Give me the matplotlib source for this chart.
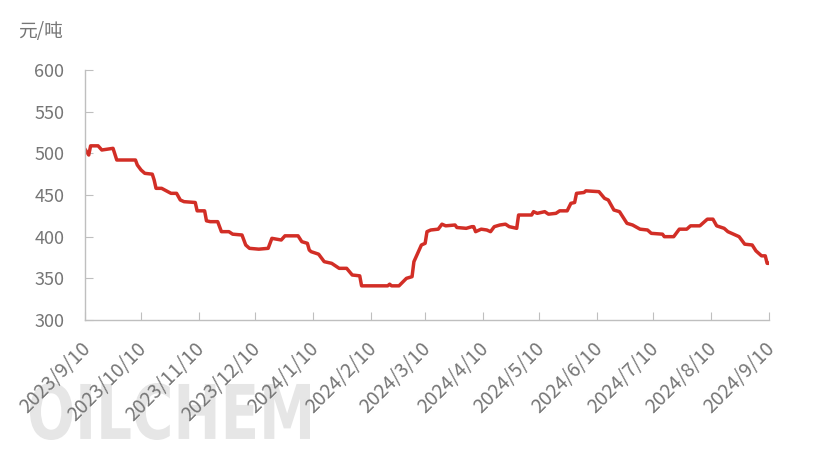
import pandas as pd
import matplotlib.pyplot as plt
from matplotlib.textpath import TextPath
from matplotlib.patches import PathPatch
from matplotlib.font_manager import FontProperties
from matplotlib.transforms import Affine2D, IdentityTransform, ScaledTranslation

plt.rcParams['font.family'] = ['Noto Sans CJK SC', 'DejaVu Sans']

# price readings (yuan/ton) at the turning points
dates = [
    "2023-09-10", "2023-09-12", "2023-09-13", "2023-09-17", "2023-09-19", "2023-09-22",
    "2023-09-25", "2023-09-27", "2023-10-07", "2023-10-08", "2023-10-10", "2023-10-12",
    "2023-10-16", "2023-10-17", "2023-10-18", "2023-10-21", "2023-10-26", "2023-10-29",
    "2023-10-31", "2023-11-02", "2023-11-08", "2023-11-09", "2023-11-13", "2023-11-14",
    "2023-11-16", "2023-11-20", "2023-11-22", "2023-11-26", "2023-11-28", "2023-12-03",
    "2023-12-05", "2023-12-07", "2023-12-12", "2023-12-17", "2023-12-19", "2023-12-24",
    "2023-12-26", "2024-01-02", "2024-01-04", "2024-01-07", "2024-01-08", "2024-01-09",
    "2024-01-13", "2024-01-16", "2024-01-20", "2024-01-24", "2024-01-28", "2024-01-31",
    "2024-02-04", "2024-02-05", "2024-02-19", "2024-02-20", "2024-02-21", "2024-02-25",
    "2024-02-29", "2024-03-03", "2024-03-04", "2024-03-06", "2024-03-08", "2024-03-10",
    "2024-03-11", "2024-03-13", "2024-03-17", "2024-03-19", "2024-03-21", "2024-03-26",
    "2024-03-27", "2024-04-01", "2024-04-04", "2024-04-05", "2024-04-06", "2024-04-09",
    "2024-04-12", "2024-04-14", "2024-04-16", "2024-04-19", "2024-04-22", "2024-04-24",
    "2024-04-28", "2024-04-29", "2024-05-06", "2024-05-07", "2024-05-09", "2024-05-13",
    "2024-05-15", "2024-05-19", "2024-05-21", "2024-05-25", "2024-05-27", "2024-05-29",
    "2024-05-30", "2024-06-03", "2024-06-04", "2024-06-11", "2024-06-14", "2024-06-16",
    "2024-06-19", "2024-06-22", "2024-06-26", "2024-06-29", "2024-07-03", "2024-07-07",
    "2024-07-09", "2024-07-15", "2024-07-16", "2024-07-21", "2024-07-24", "2024-07-28",
    "2024-07-30", "2024-08-04", "2024-08-06", "2024-08-08", "2024-08-11", "2024-08-13",
    "2024-08-17", "2024-08-19", "2024-08-24", "2024-08-25", "2024-08-28", "2024-09-01",
    "2024-09-03", "2024-09-06", "2024-09-08", "2024-09-09", "2024-09-10",
]
prices = [
    505, 498, 509, 509, 504, 505,
    506, 492, 492, 486, 480, 476,
    475, 468, 458, 458, 452, 452,
    444, 442, 441, 431, 431, 419,
    418, 418, 406, 406, 403, 402,
    390, 386, 385, 386, 398, 396,
    401, 401, 394, 392, 384, 382,
    379, 370, 368, 362, 362, 354,
    353, 341, 341, 343, 341, 341,
    350, 352, 370, 380, 390, 392,
    406, 408, 409, 415, 413, 414,
    411, 410, 412, 412, 406, 409,
    408, 406, 412, 414, 415, 412,
    410, 426, 426, 430, 428, 430,
    427, 428, 431, 431, 440, 441,
    452, 453, 455, 454, 446, 444,
    432, 430, 416, 414, 409, 408,
    404, 403, 400, 400, 409, 409,
    413, 413, 417, 421, 421, 413,
    410, 406, 401, 400, 391, 390,
    383, 377, 377, 368, 368,
]
tick_dates = pd.to_datetime([
    "2023-09-10", "2023-10-10", "2023-11-10", "2023-12-10", "2024-01-10", "2024-02-10",
    "2024-03-10", "2024-04-10", "2024-05-10", "2024-06-10", "2024-07-10", "2024-08-10",
    "2024-09-10",
])
tick_labels = [f"{d.year}/{d.month}/{d.day}" for d in tick_dates]

x = pd.to_datetime(dates)

fig = plt.figure(figsize=(8.15, 4.61), dpi=100)

# watermark, squeezed into its box in pixel units
tp = TextPath((0, 0), "OILCHEM", size=100,
              prop=FontProperties(family="DejaVu Sans", weight="bold"))
ext = tp.get_extents()
sx = 280 / ext.width
sy = 57 / ext.height
wm_tr = Affine2D().translate(-ext.x0, -ext.y0).scale(sx, sy).translate(30, 461 - 440)
fig.add_artist(PathPatch(tp, transform=wm_tr + IdentityTransform(),
                         facecolor="#e6e6e6", edgecolor="none", zorder=0))

ax = fig.add_axes([85 / 815, 141 / 461, 684 / 815, 250 / 461])
ax.set_facecolor("none")
ax.set_zorder(1)

ax.plot(x, prices, color="#d22e26", lw=2.5, solid_joinstyle="round")

ax.set_xlim(pd.Timestamp("2023-09-10"), pd.Timestamp("2024-09-10"))
ax.set_ylim(300, 600)
ax.set_yticks(range(300, 601, 50))
ax.set_xticks(tick_dates)
ax.set_xticklabels(tick_labels, rotation=45, ha="right", va="top", rotation_mode="anchor")

for s in ["top", "right"]:
    ax.spines[s].set_visible(False)
for s in ["left", "bottom"]:
    ax.spines[s].set_color("#bfbfbf")
    ax.spines[s].set_linewidth(1.0)

ax.tick_params(axis="y", direction="in", length=6, color="#bfbfbf", pad=15,
               labelsize=13, labelcolor="#767676")
ax.tick_params(axis="x", direction="in", length=6, color="#bfbfbf", pad=13,
               labelsize=14, labelcolor="#767676")

shift = ScaledTranslation(-5 / 100, 0, fig.dpi_scale_trans)
for lab in ax.get_xticklabels():
    lab.set_transform(lab.get_transform() + shift)

fig.text(18 / 815, 1 - 32 / 461, "元/吨", fontsize=13.5, color="#767676", va="center")

fig.savefig("out.png", dpi=100)
